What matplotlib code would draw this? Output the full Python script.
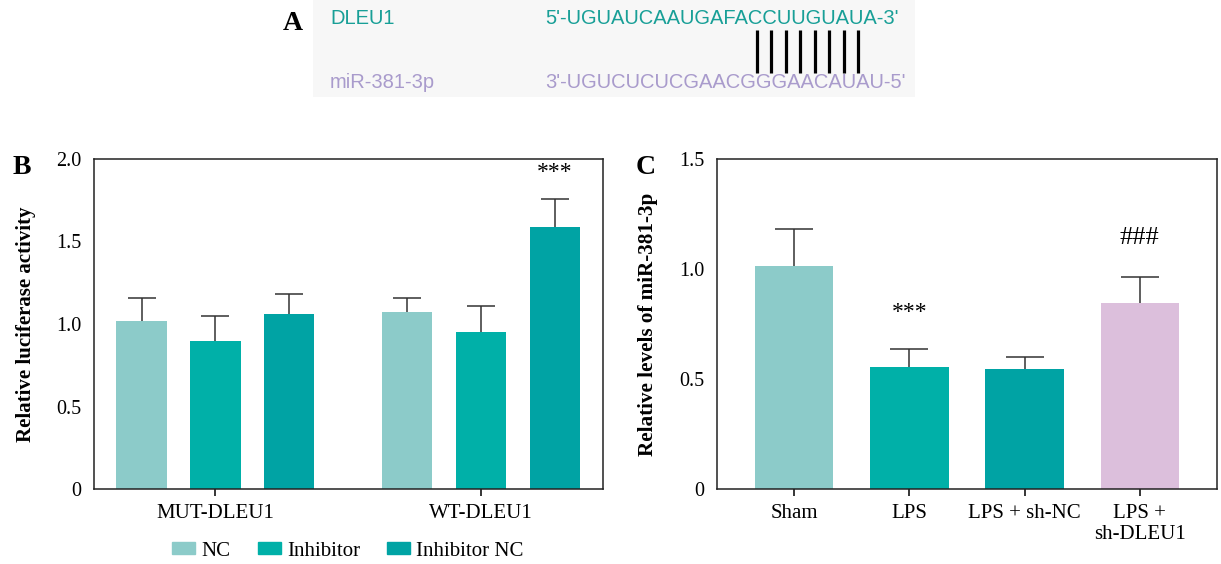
import matplotlib
matplotlib.use("Agg")
import matplotlib.pyplot as plt
from matplotlib.patches import Patch
import numpy as np

plt.rcParams['font.family'] = ['Liberation Serif', 'DejaVu Serif']

# Panel A: secuencias
dleu1_name = "DLEU1"
dleu1_seq = "5'-UGUAUCAAUGAFACCUUGUAUA-3'"
mir_name = "miR-381-3p"
mir_seq = "3'-UGUCUCUCGAACGGGAACAUAU-5'"
n_pares = 8

# Panel B: luciferasa
grupos_b = ["MUT-DLEU1", "WT-DLEU1"]
series_b = ["NC", "Inhibitor", "Inhibitor NC"]
nc_b = [1.02, 1.07]
inhibitor_b = [0.90, 0.95]
inhibitor_nc_b = [1.06, 1.59]
nc_b_err = [0.14, 0.09]
inhibitor_b_err = [0.15, 0.16]
inhibitor_nc_b_err = [0.12, 0.17]

# Panel C: miR-381-3p
grupos_c = ["Sham", "LPS", "LPS + sh-NC", "LPS +\nsh-DLEU1"]
valores_c = [1.015, 0.555, 0.545, 0.845]
errores_c = [0.165, 0.08, 0.053, 0.12]
marcas_c = ["", "***", "", "###"]

colores = ["#8ccbc9", "#00b0a8", "#00a3a4"]
colores_c = ["#8ccbc9", "#00b0a8", "#00a3a4", "#dcbfdc"]
W, H = 1221, 564

fig = plt.figure(figsize=(W / 100, H / 100), dpi=100)

# ---- Panel A ----
ax_a = fig.add_axes([313 / W, 1 - 97 / H, 602 / W, 97 / H])
ax_a.set_facecolor("#f7f7f7")
for s in ax_a.spines.values():
    s.set_visible(False)
ax_a.set_xticks([])
ax_a.set_yticks([])
ax_a.set_xlim(313, 915)
ax_a.set_ylim(97, 0)
sans = ['Liberation Sans', 'DejaVu Sans']
ax_a.text(330, 19, dleu1_name, color="#189f97", fontsize=14.5, family=sans, va="center")
ax_a.text(545, 19, dleu1_seq, color="#189f97", fontsize=14.5, family=sans, va="center")
ax_a.text(330, 83, mir_name, color="#a99bcc", fontsize=14.5, family=sans, va="center")
ax_a.text(545, 83, mir_seq, color="#a99bcc", fontsize=14.5, family=sans, va="center")
ax_a.vlines(np.linspace(757, 858, n_pares), 30, 73, color="black", lw=2.3)
fig.text(293 / W, 1 - 24 / H, "A", fontsize=20, fontweight="bold", ha="center", va="center")


def estilo(ax):
    for s in ax.spines.values():
        s.set_linewidth(1.1)
        s.set_color("#222222")
    ax.tick_params(axis="y", length=0, pad=9, labelsize=14.5)
    ax.tick_params(axis="x", length=5, width=1.1, labelsize=15, pad=6)


err_kw = dict(elinewidth=1.1, capthick=1.1, ecolor="#333333", zorder=1)

# ---- Panel B ----
ax_b = fig.add_axes([93.6 / W, 1 - 489 / H, (603 - 93.6) / W, 330 / H])
centros = np.array([0, 3.6])
ancho = 0.68
series_vals = [nc_b, inhibitor_b, inhibitor_nc_b]
series_err = [nc_b_err, inhibitor_b_err, inhibitor_nc_b_err]
for i, (v, e) in enumerate(zip(series_vals, series_err)):
    ax_b.bar(centros + (i - 1), v, ancho, color=colores[i], zorder=2,
             yerr=e, capsize=10, error_kw=err_kw)
ax_b.text(centros[1] + 1, 1.92, "***", ha="center", va="center", fontsize=17)
ax_b.set_xlim(-1.65, 5.25)
ax_b.set_ylim(0, 2.0)
ax_b.set_yticks([0, 0.5, 1.0, 1.5, 2.0])
ax_b.set_yticklabels(["0", "0.5", "1.0", "1.5", "2.0"])
ax_b.set_xticks(centros)
ax_b.set_xticklabels(grupos_b)
ax_b.set_ylabel("Relative luciferase activity", fontsize=15, fontweight="bold", labelpad=14)
estilo(ax_b)
fig.text(22 / W, 1 - 168 / H, "B", fontsize=20, fontweight="bold", ha="center", va="center")

handles = [Patch(color=c) for c in colores]
fig.legend(handles, series_b, loc="center", bbox_to_anchor=(348 / W, 1 - 551 / H),
           ncol=3, frameon=False, fontsize=15, handlelength=1.1, handleheight=0.55,
           handletextpad=0.3, columnspacing=1.3)

# ---- Panel C ----
ax_c = fig.add_axes([717 / W, 1 - 489 / H, (1217 - 717) / W, 330 / H])
x_c = np.arange(len(grupos_c))
ax_c.bar(x_c, valores_c, ancho, color=colores_c, zorder=2,
         yerr=errores_c, capsize=14, error_kw=err_kw)
ax_c.text(x_c[1], 0.80, marcas_c[1], ha="center", va="center", fontsize=17)
ax_c.text(x_c[3], 1.14, marcas_c[3], ha="center", va="center", fontsize=19)
ax_c.set_xlim(-0.67, 3.67)
ax_c.set_ylim(0, 1.5)
ax_c.set_yticks([0, 0.5, 1.0, 1.5])
ax_c.set_yticklabels(["0", "0.5", "1.0", "1.5"])
ax_c.set_xticks(x_c)
ax_c.set_xticklabels(grupos_c, linespacing=1.15, va="top")
ax_c.set_ylabel("Relative levels of miR-381-3p", fontsize=15.2, fontweight="bold", labelpad=15)
estilo(ax_c)
fig.text(646 / W, 1 - 168 / H, "C", fontsize=20, fontweight="bold", ha="center", va="center")

fig.savefig("out.png", dpi=100, facecolor="white")
